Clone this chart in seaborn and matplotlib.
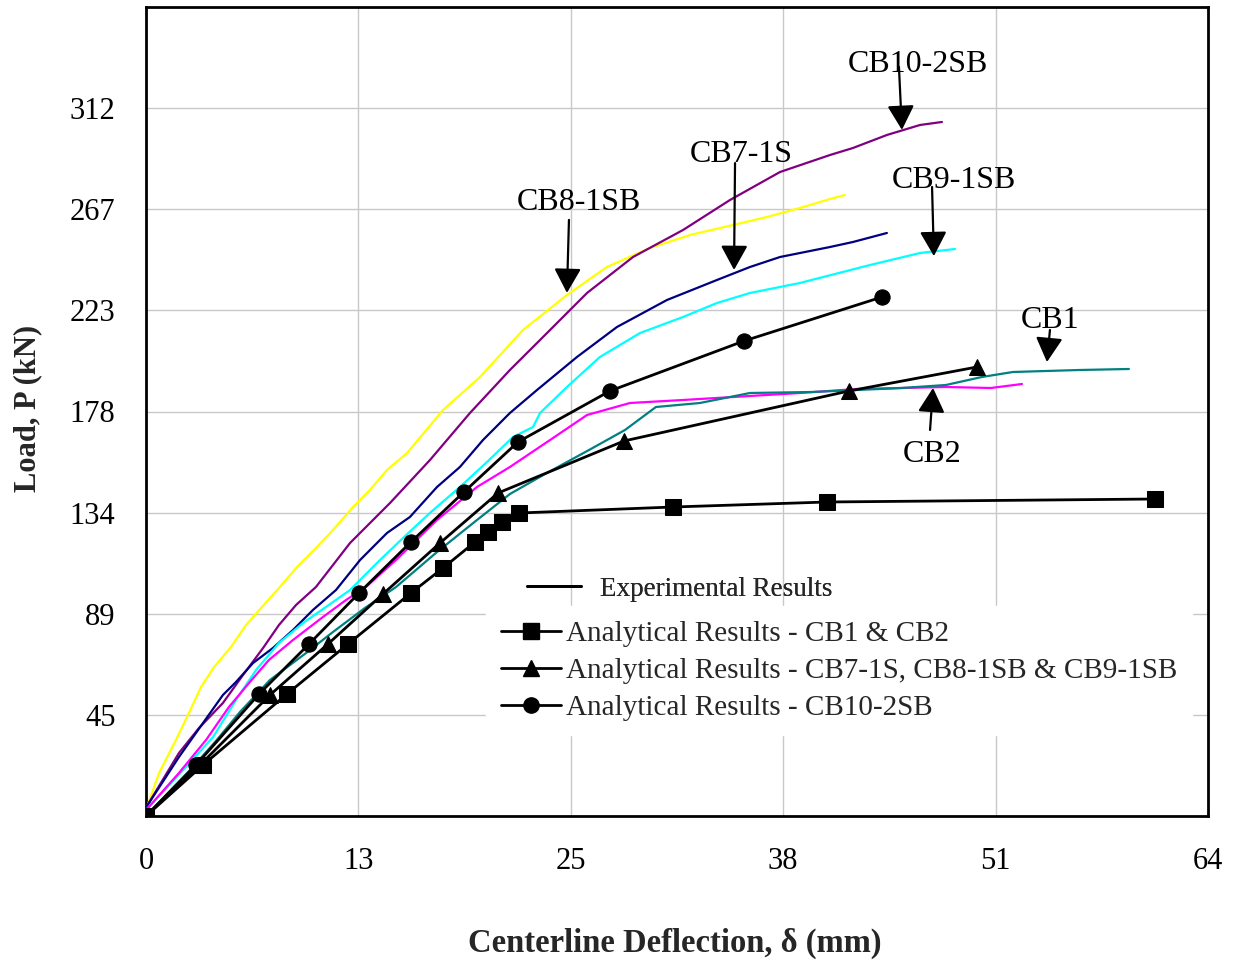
import matplotlib
matplotlib.use("Agg")
import matplotlib.pyplot as plt
from matplotlib.lines import Line2D
import seaborn as sns
import pandas as pd

# ---------------- data (deflection in mm, load in kN) ----------------
cb8_x = [0, 0.06, 0.78, 1.79, 2.57, 3.29, 4.07, 5.08, 5.98, 6.88, 7.95, 9.03, 10.22, 11.18,
         12.38, 13.39, 14.41, 15.61, 17.76, 19.97, 22.54, 25.17, 27.56, 30.13, 32.53, 35.10,
         37.13, 39.10, 40.90, 41.79]
cb8_y = [0, 3.96, 18.91, 33.43, 45.31, 56.74, 65.54, 74.34, 84.02, 91.50, 100.29, 109.53,
         118.33, 125.81, 135.92, 143.40, 152.20, 159.68, 178.59, 193.11, 213.78, 229.18,
         241.49, 249.85, 255.57, 259.97, 263.49, 267.45, 271.41, 273.17]

cb10_x = [0, 0.06, 1.97, 3.17, 4.60, 5.80, 7.00, 7.95, 8.97, 10.16, 12.20, 14.59, 16.98, 19.37,
          21.76, 23.74, 26.37, 29.12, 32.11, 34.92, 37.91, 40.90, 42.27, 44.30, 46.28, 47.59]
cb10_y = [0, 4.40, 27.71, 38.71, 49.71, 62.02, 73.90, 84.02, 92.81, 100.73, 120.09, 137.68,
          156.60, 177.27, 196.19, 210.70, 230.06, 245.89, 257.77, 270.97, 283.28, 290.76,
          293.84, 299.56, 303.96, 305.28]

cb7_x = [0, 0.06, 1.97, 3.41, 4.60, 5.38, 6.40, 7.59, 8.79, 9.98, 11.36, 12.80, 14.41, 15.78,
         17.40, 18.77, 20.15, 21.76, 23.38, 25.77, 28.16, 31.15, 34.14, 36.11, 37.91, 40.90,
         42.27, 44.30]
cb7_y = [0, 4.40, 25.95, 40.91, 53.23, 58.94, 67.30, 73.90, 81.82, 90.62, 99.41, 112.61,
         124.49, 131.52, 144.72, 153.52, 165.39, 177.27, 187.39, 201.91, 215.10, 226.98,
         235.78, 241.49, 245.89, 250.29, 252.49, 256.45]

cb9_x = [0, 0.06, 2.39, 4.01, 5.38, 6.58, 7.95, 9.39, 10.76, 12.20, 13.87, 15.43, 17.04, 18.77,
         20.39, 21.94, 23.14, 23.56, 25.17, 27.14, 29.54, 32.11, 34.14, 36.11, 39.10, 43.29,
         46.28, 48.37]
cb9_y = [0, 3.08, 21.55, 34.75, 51.03, 64.22, 76.10, 84.90, 91.94, 99.41, 111.73, 122.73,
         133.72, 144.72, 155.72, 166.71, 171.11, 177.27, 188.71, 201.91, 212.46, 219.50,
         225.66, 230.06, 234.46, 242.37, 247.65, 249.41]

cb2_x = [0, 0.06, 1.97, 3.59, 4.96, 6.16, 7.35, 8.79, 10.58, 11.96, 13.15, 14.95, 17.40, 19.79,
         21.76, 24.16, 26.37, 28.94, 32.11, 35.10, 39.10, 42.51, 47.83, 50.52, 52.38]
cb2_y = [0, 3.08, 18.91, 33.43, 47.95, 58.50, 68.62, 77.42, 87.54, 95.01, 100.73, 112.61,
         130.20, 144.72, 153.52, 165.39, 176.39, 181.67, 182.99, 184.31, 186.07, 187.83,
         188.71, 188.27, 190.03]

cb1_x = [0, 2.63, 4.13, 5.62, 7.41, 9.57, 11.18, 13.09, 14.95, 17.40, 19.79, 21.76, 23.86,
         26.49, 28.64, 30.49, 33.12, 36.11, 39.82, 45.20, 47.83, 49.98, 51.84, 55.84, 58.77]
cb1_y = [0, 20.23, 32.55, 45.75, 59.82, 71.70, 80.94, 91.50, 100.73, 116.13, 130.20, 141.64,
         150.44, 161.00, 169.79, 179.91, 181.67, 186.07, 186.51, 188.27, 189.59, 193.11,
         195.31, 196.19, 196.63]

# analytical results
an_cb12_x = [0, 3.41, 8.43, 12.08, 15.84, 17.76, 19.67, 20.45, 21.28, 22.30, 31.51, 40.72, 60.33]
an_cb12_y = [0, 22.43, 53.67, 75.66, 98.09, 109.09, 120.53, 124.93, 129.32, 133.28, 135.92,
             138.12, 139.44]
an_cb789_x = [0, 3.23, 7.41, 10.88, 14.17, 17.58, 21.05, 28.58, 42.03, 49.69]
an_cb789_y = [0, 22.43, 53.23, 75.66, 97.65, 120.09, 142.08, 164.96, 186.95, 197.51]
an_cb10_x = [0, 2.99, 6.76, 9.75, 12.74, 15.84, 19.01, 22.24, 27.74, 35.75, 44.01]
an_cb10_y = [0, 22.43, 53.67, 75.66, 98.09, 120.53, 142.52, 164.52, 186.95, 208.94, 228.30]

specimens = ["CB8-1SB", "CB10-2SB", "CB7-1S", "CB9-1SB", "CB2", "CB1"]
spec_colors = ["#FFFF00", "#800080", "#000080", "#00FFFF", "#FF00FF", "#008080"]

x_ticks = [0, 12.7, 25.4, 38.1, 50.8, 63.5]
x_ticklabels = ["0", "13", "25", "38", "51", "64"]
y_ticks = [44.48, 88.96, 133.45, 177.93, 222.41, 266.89, 311.38]
y_ticklabels = ["45", "89", "134", "178", "223", "267", "312"]

legend_labels = ["Analytical Results - CB1 & CB2",
                 "Analytical Results - CB7-1S, CB8-1SB & CB9-1SB",
                 "Analytical Results - CB10-2SB"]

# annotations: label, text (x, baseline y), arrow tail, arrow tip
annotations = [
    ("CB10-2SB", (46.13, 327.3), (45.02, 329.5), (45.20, 301.8)),
    ("CB7-1S", (35.57, 287.7), (35.22, 287.2), (35.16, 240.2)),
    ("CB8-1SB", (25.89, 266.6), (25.29, 262.2), (25.17, 230.1)),
    ("CB9-1SB", (48.28, 276.2), (47.00, 276.7), (47.11, 246.3)),
    ("CB1", (54.05, 214.7), (54.05, 213.8), (53.87, 199.7)),
    ("CB2", (47.00, 155.7), (46.88, 169.8), (47.06, 188.3)),
]

# ---------------- figure ----------------
sns.set_style("white")
plt.rcParams["font.family"] = ["Liberation Serif", "DejaVu Serif"]

fig = plt.figure(figsize=(12.4, 9.64), dpi=100)
ax = fig.add_axes([146 / 1240, 1 - 816 / 964, 1062 / 1240, 809 / 964])

exp_series = [(cb8_x, cb8_y), (cb10_x, cb10_y), (cb7_x, cb7_y),
              (cb9_x, cb9_y), (cb2_x, cb2_y), (cb1_x, cb1_y)]
frames = []
for name, (xs, ys) in zip(specimens, exp_series):
    frames.append(pd.DataFrame({"defl": xs, "load": ys, "specimen": name}))
df = pd.concat(frames, ignore_index=True)

sns.lineplot(data=df, x="defl", y="load", hue="specimen", hue_order=specimens,
             palette=dict(zip(specimens, spec_colors)), sort=False, estimator=None,
             legend=False, linewidth=1.6, ax=ax, zorder=3)

an_series = [(an_cb12_x, an_cb12_y, "s"), (an_cb789_x, an_cb789_y, "^"),
             (an_cb10_x, an_cb10_y, "o")]
for xs, ys, mk in an_series:
    sns.lineplot(x=xs, y=ys, sort=False, estimator=None, color="black", linewidth=2.0,
                 marker=mk, markersize=11, markeredgecolor="black", markerfacecolor="black",
                 ax=ax, zorder=4)

ax.set_xlim(0, 63.5)
ax.set_ylim(0, 355.86)
ax.set_xticks(x_ticks)
ax.set_xticklabels(x_ticklabels)
ax.set_yticks(y_ticks)
ax.set_yticklabels(y_ticklabels)
ax.tick_params(axis="both", length=0, labelsize=22, colors="black")
ax.tick_params(axis="x", pad=22)
ax.tick_params(axis="y", pad=22)
ax.grid(True, color="#c8c8c8", linewidth=1.0, zorder=0)
ax.set_axisbelow(True)
for sp in ax.spines.values():
    sp.set_visible(True)
    sp.set_color("black")
    sp.set_linewidth(2.0)

ax.set_xlabel("Centerline Deflection, δ (mm)", fontsize=23.5, fontweight="bold")
ax.set_ylabel("Load, P (kN)", fontsize=22, fontweight="bold")
ax.xaxis.label.set_va("center")
ax.yaxis.label.set_va("center")
ax.xaxis.set_label_coords(0.498, -0.158)
ax.yaxis.set_label_coords(-0.111, 0.504)

for label, (tx, ty), tail, tip in annotations:
    ax.text(tx, ty, label, fontsize=23, ha="center", va="baseline", color="black", zorder=6)
    ax.annotate("", xy=tip, xytext=tail,
                arrowprops=dict(arrowstyle="-|>,head_length=1.0,head_width=0.55",
                                mutation_scale=15, color="black", lw=1.6,
                                shrinkA=0, shrinkB=0), zorder=6)

# legends
exp_handle = [Line2D([], [], color="black", linewidth=2.0)]
leg1 = fig.legend(exp_handle, ["Experimental Results"], loc="center left",
                  bbox_to_anchor=(527 / 1240, 1 - 589 / 964), frameon=False,
                  fontsize=19.5, handlelength=2.0, handletextpad=0.68, borderpad=0,
                  borderaxespad=0)
an_handles = [Line2D([], [], color="black", linewidth=2.0, marker=m, markersize=11)
              for m in ["s", "^", "o"]]
leg2 = fig.legend(an_handles, legend_labels, loc="upper left",
                  bbox_to_anchor=(486 / 1240, 1 - 606 / 964), frameon=True,
                  facecolor="white", edgecolor="white", framealpha=1.0, fancybox=False,
                  fontsize=21, handlelength=2.06, handletextpad=0.2, borderpad=0.5,
                  labelspacing=0.36, borderaxespad=0)
fig.add_artist(leg1)

fig.savefig("out.png", dpi=100)
